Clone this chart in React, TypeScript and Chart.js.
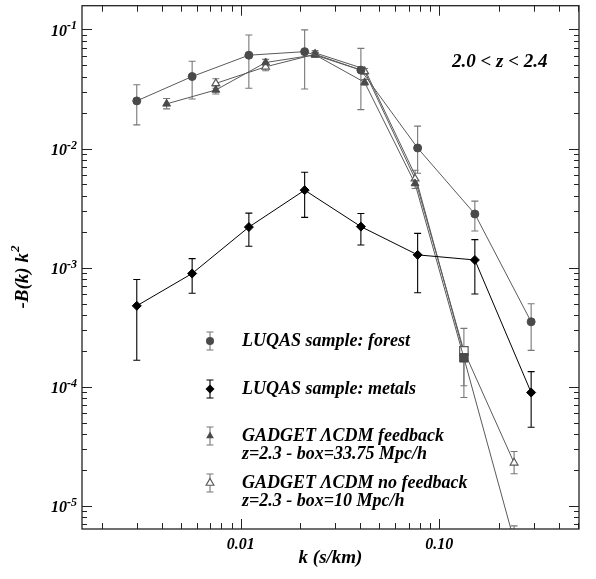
import { useEffect, useRef } from 'react';
import { Chart, registerables } from 'chart.js';

Chart.register(...registerables);

const FONT = '"Liberation Serif", "Times New Roman", serif';

// ---- data (k in s/km, -B(k) k^2) ----
const forestK = [0.003, 0.0057, 0.011, 0.021, 0.0403, 0.0778, 0.151, 0.29];
const forestB = [0.0251, 0.0402, 0.0607, 0.065, 0.0455, 0.0101, 0.00282, 0.000351];
const forestHi = [0.0343, 0.054, 0.0898, 0.099, 0.0693, 0.0154, 0.00362, 0.000497];
const forestLo = [0.0158, 0.026, 0.032, 0.0316, 0.0212, 0.0062, 0.00203, 0.000202];

const metalsK = [0.003, 0.0057, 0.011, 0.021, 0.0403, 0.0778, 0.151, 0.29];
const metalsB = [0.000478, 0.000893, 0.00219, 0.00447, 0.00221, 0.00128, 0.00116, 0.0000895];
const metalsHi = [0.000796, 0.00119, 0.00287, 0.00632, 0.00285, 0.00194, 0.00172, 0.000134];
const metalsLo = [0.000167, 0.00061, 0.00151, 0.00264, 0.00155, 0.000615, 0.0006, 0.0000457];

const fbK = [0.00424, 0.0075, 0.01336, 0.0237, 0.0421, 0.0755, 0.133, 0.238];
const fbB = [0.0237, 0.031, 0.0527, 0.0611, 0.0359, 0.00508, 0.000175, 0.0000051];
const fbHi = [0.0263, 0.0335, 0.056, 0.064, 0.038, 0.0054, 0.000213, 0.0000068];
const fbLo = [0.0215, 0.0287, 0.0495, 0.058, 0.034, 0.00461, 0.000102, 0.0000038];

const nfK = [0.0075, 0.01336, 0.0237, 0.0421, 0.0755, 0.133, 0.238];
const nfB = [0.0352, 0.0485, 0.0618, 0.0444, 0.00558, 0.0002, 0.000023];
const nfHi = [0.0385, 0.052, 0.066, 0.047, 0.00656, 0.000309, 0.0000286];
const nfLo = [0.032, 0.045, 0.058, 0.042, 0.0049, 0.0000813, 0.0000186];

const extraK = [0.0237, 0.0421, 0.0755, 0.133];
const extraB = [0.0635, 0.0465, 0.006, 0.00019];

// ---- axes ----
const xMin = 0.00159;
const xMax = 0.505;
const yMin = 6.4e-6;
const yMax = 0.158;
const xDecades = [-3, -2, -1];
const yDecades = [-6, -5, -4, -3, -2, -1];
const mantissas = [1, 2, 3, 4, 5, 6, 7, 8, 9];
const xLabelValues = [0.01, 0.1];
const xLabelTexts = ['0.01', '0.10'];
const yLabelExps = [-1, -2, -3, -4, -5];

const xTitle = 'k (s/km)';
const yTitleMain = '-B(k) k';
const yTitleSup = '2';
const zRangeText = '2.0 < z < 2.4';

const legendLabels = [
  ['LUQAS sample: forest'],
  ['LUQAS sample: metals'],
  ['GADGET \u039BCDM feedback', 'z=2.3 - box=33.75 Mpc/h'],
  ['GADGET \u039BCDM no feedback', 'z=2.3 - box=10 Mpc/h'],
];

const toPoints = (k: number[], b: number[], hi?: number[], lo?: number[]) =>
  k.map((x, i) => ({ x, y: b[i], yMax: hi ? hi[i] : undefined, yMin: lo ? lo[i] : undefined }));

const logTicks = (decades: number[], min: number, max: number) => {
  const out: number[] = [];
  decades.forEach((d) => mantissas.forEach((m) => {
    const v = m * Math.pow(10, d);
    if (v >= min * 0.9999 && v <= max * 1.0001) out.push(v);
  }));
  return out;
};

const isMajor = (v: number) => {
  const l = Math.log10(v);
  return Math.abs(l - Math.round(l)) < 1e-6;
};

const GRAY = '#4a4a4a';
const LINE_GRAY = '#5a5a5a';
const ERR_GRAY = '#777777';

function drawMarker(ctx: CanvasRenderingContext2D, kind: string, x: number, y: number) {
  ctx.save();
  ctx.lineWidth = 1.2;
  if (kind === 'circle') {
    ctx.fillStyle = GRAY;
    ctx.beginPath();
    ctx.arc(x, y, 4, 0, Math.PI * 2);
    ctx.fill();
  } else if (kind === 'diamond') {
    ctx.fillStyle = '#000';
    ctx.beginPath();
    ctx.moveTo(x, y - 4.5);
    ctx.lineTo(x + 4.5, y);
    ctx.lineTo(x, y + 4.5);
    ctx.lineTo(x - 4.5, y);
    ctx.closePath();
    ctx.fill();
  } else {
    const r = 4.5;
    ctx.beginPath();
    ctx.moveTo(x, y - r);
    ctx.lineTo(x + r * 0.866, y + r * 0.5);
    ctx.lineTo(x - r * 0.866, y + r * 0.5);
    ctx.closePath();
    if (kind === 'triFilled') {
      ctx.fillStyle = GRAY;
      ctx.fill();
    } else {
      ctx.fillStyle = '#fff';
      ctx.fill();
      ctx.strokeStyle = LINE_GRAY;
      ctx.stroke();
    }
  }
  ctx.restore();
}

function drawErrBar(ctx: CanvasRenderingContext2D, x: number, y1: number, y2: number, color: string) {
  ctx.save();
  ctx.strokeStyle = color;
  ctx.lineWidth = 1.1;
  ctx.beginPath();
  ctx.moveTo(x, y1);
  ctx.lineTo(x, y2);
  ctx.moveTo(x - 3.5, y1);
  ctx.lineTo(x + 3.5, y1);
  ctx.moveTo(x - 3.5, y2);
  ctx.lineTo(x + 3.5, y2);
  ctx.stroke();
  ctx.restore();
}

const decorPlugin = {
  id: 'decor',
  beforeDatasetsDraw(chart: any) {
    const { ctx, chartArea: a } = chart;
    const xs = chart.scales.x;
    const ys = chart.scales.y;
    ctx.save();
    ctx.beginPath();
    ctx.rect(a.left, a.top, a.right - a.left, a.bottom - a.top);
    ctx.clip();
    chart.data.datasets.forEach((ds: any) => {
      ds.data.forEach((d: any) => {
        if (d.yMin == null || d.yMax == null) return;
        const x = xs.getPixelForValue(d.x);
        drawErrBar(ctx, x, ys.getPixelForValue(d.yMax), ys.getPixelForValue(d.yMin), ds.errorColor);
      });
    });
    ctx.restore();
  },
  afterDraw(chart: any) {
    const { ctx, chartArea: a } = chart;
    const xs = chart.scales.x;
    const ys = chart.scales.y;
    ctx.save();
    // frame
    ctx.strokeStyle = '#222';
    ctx.lineWidth = 1.3;
    ctx.strokeRect(a.left, a.top, a.right - a.left, a.bottom - a.top);
    // ticks
    ctx.lineWidth = 1;
    ctx.beginPath();
    xs.ticks.forEach((t: any) => {
      const x = Math.round(xs.getPixelForValue(t.value)) + 0.5;
      const len = isMajor(t.value) ? 10 : 6;
      ctx.moveTo(x, a.bottom);
      ctx.lineTo(x, a.bottom - len);
      ctx.moveTo(x, a.top);
      ctx.lineTo(x, a.top + len);
    });
    ys.ticks.forEach((t: any) => {
      const y = Math.round(ys.getPixelForValue(t.value)) + 0.5;
      const len = isMajor(t.value) ? 10 : 5;
      ctx.moveTo(a.left, y);
      ctx.lineTo(a.left + len, y);
      ctx.moveTo(a.right, y);
      ctx.lineTo(a.right - len, y);
    });
    ctx.stroke();

    // x tick labels
    ctx.fillStyle = '#000';
    ctx.font = `italic bold 16px ${FONT}`;
    ctx.textAlign = 'center';
    ctx.textBaseline = 'middle';
    xLabelValues.forEach((v, i) => {
      ctx.fillText(xLabelTexts[i], xs.getPixelForValue(v), a.bottom + 16);
    });

    // y tick labels 10^n
    ctx.textBaseline = 'middle';
    yLabelExps.forEach((e) => {
      const y = ys.getPixelForValue(Math.pow(10, e));
      const sup = '-' + Math.abs(e);
      ctx.font = `italic bold 12px ${FONT}`;
      const supW = ctx.measureText(sup).width;
      ctx.textAlign = 'left';
      const right = a.left - 5;
      ctx.fillText(sup, right - supW, y - 3);
      ctx.font = `italic bold 16px ${FONT}`;
      ctx.textAlign = 'right';
      ctx.fillText('10', right - supW, y + 2);
    });

    // y title
    ctx.save();
    ctx.translate(22, 277);
    ctx.rotate(-Math.PI / 2);
    ctx.font = `italic bold 19px ${FONT}`;
    const w1 = ctx.measureText(yTitleMain).width;
    ctx.font = `italic bold 13px ${FONT}`;
    const w2 = ctx.measureText(yTitleSup).width;
    const start = -(w1 + w2 + 1) / 2;
    ctx.textAlign = 'left';
    ctx.textBaseline = 'alphabetic';
    ctx.font = `italic bold 19px ${FONT}`;
    ctx.fillText(yTitleMain, start, 6);
    ctx.font = `italic bold 13px ${FONT}`;
    ctx.fillText(yTitleSup, start + w1 + 1, -3);
    ctx.restore();

    // redshift annotation
    ctx.font = `italic bold 19px ${FONT}`;
    ctx.textAlign = 'left';
    ctx.textBaseline = 'middle';
    ctx.fillText(zRangeText, 452, 62);

    // legend
    const markers = ['circle', 'diamond', 'triFilled', 'triOpen'];
    const errColors = [ERR_GRAY, '#000', ERR_GRAY, ERR_GRAY];
    const rowsY = [341, 389, 436, 483];
    legendLabels.forEach((lines, i) => {
      const y = rowsY[i];
      drawErrBar(ctx, 210, y - 9, y + 9, errColors[i]);
      drawMarker(ctx, markers[i], 210, y);
      ctx.fillStyle = '#000';
      ctx.font = `italic bold 18px ${FONT}`;
      ctx.textAlign = 'left';
      ctx.textBaseline = 'middle';
      lines.forEach((ln, j) => ctx.fillText(ln, 242, y + j * 18.5));
    });
    ctx.restore();
  },
};

export default function App() {
  const ref = useRef<HTMLCanvasElement | null>(null);
  useEffect(() => {
    if (!ref.current) return;
    const fbStyles = fbK.map((_, i) => (i === 6 ? 'rect' : 'triangle'));
    const fbRadius = fbK.map((_, i) => (i === 6 ? 6 : 4.5));
    const nfStyles = nfK.map((_, i) => (i === 5 ? 'rect' : 'triangle'));
    const nfRadius = nfK.map((_, i) => (i === 5 ? 6 : 4.5));
    const chart = new Chart(ref.current, {
      type: 'line',
      data: {
        datasets: [
          {
            label: legendLabels[0][0],
            data: toPoints(forestK, forestB, forestHi, forestLo),
            borderColor: LINE_GRAY,
            borderWidth: 1,
            pointStyle: 'circle',
            pointRadius: 4,
            pointBackgroundColor: GRAY,
            pointBorderColor: GRAY,
            errorColor: ERR_GRAY,
          } as any,
          {
            label: legendLabels[1][0],
            data: toPoints(metalsK, metalsB, metalsHi, metalsLo),
            borderColor: '#000',
            borderWidth: 1,
            pointStyle: 'rectRot',
            pointRadius: 4.5,
            pointBackgroundColor: '#000',
            pointBorderColor: '#000',
            errorColor: '#000',
          } as any,
          {
            label: legendLabels[2][0],
            data: toPoints(fbK, fbB, fbHi, fbLo),
            borderColor: LINE_GRAY,
            borderWidth: 1,
            pointStyle: fbStyles,
            pointRadius: fbRadius,
            pointBackgroundColor: GRAY,
            pointBorderColor: GRAY,
            errorColor: ERR_GRAY,
          } as any,
          {
            label: legendLabels[3][0],
            data: toPoints(nfK, nfB, nfHi, nfLo),
            borderColor: LINE_GRAY,
            borderWidth: 1,
            pointStyle: nfStyles,
            pointRadius: nfRadius,
            pointBackgroundColor: '#fff',
            pointBorderColor: LINE_GRAY,
            pointBorderWidth: 1.2,
            errorColor: ERR_GRAY,
          } as any,
          {
            label: 'extra',
            data: toPoints(extraK, extraB),
            borderColor: LINE_GRAY,
            borderWidth: 1,
            pointStyle: 'star',
            pointRadius: extraK.map((_, i) => (i === 0 ? 3.5 : 0)),
            pointBorderColor: GRAY,
            pointBorderWidth: 1.2,
            errorColor: ERR_GRAY,
          } as any,
        ],
      },
      options: {
        animation: false,
        responsive: false,
        devicePixelRatio: 1,
        layout: { padding: { left: 0, right: 17, top: 3, bottom: 0 } },
        plugins: { legend: { display: false }, tooltip: { enabled: false } },
        scales: {
          x: {
            type: 'logarithmic',
            min: xMin,
            max: xMax,
            afterBuildTicks: (s: any) => {
              s.ticks = logTicks(xDecades, xMin, xMax).map((v) => ({ value: v }));
            },
            afterFit: (s: any) => {
              s.height = 50;
            },
            grid: { display: false },
            border: { display: false },
            ticks: { display: false },
            title: {
              display: true,
              text: xTitle,
              color: '#000',
              padding: { top: 0, bottom: 10 },
              font: { family: FONT, size: 19, style: 'italic', weight: 'bold' },
            },
          },
          y: {
            type: 'logarithmic',
            min: yMin,
            max: yMax,
            afterBuildTicks: (s: any) => {
              s.ticks = logTicks(yDecades, yMin, yMax).map((v) => ({ value: v }));
            },
            afterFit: (s: any) => {
              s.width = 82;
            },
            grid: { display: false },
            border: { display: false },
            ticks: { display: false },
          },
        } as any,
      },
      plugins: [decorPlugin],
    });
    return () => chart.destroy();
  }, []);
  return (
    <div style={{ position: 'fixed', left: 0, top: 0, width: 596, height: 579, background: '#fff' }}>
      <canvas ref={ref} width={596} height={579} style={{ display: 'block' }} />
    </div>
  );
}
